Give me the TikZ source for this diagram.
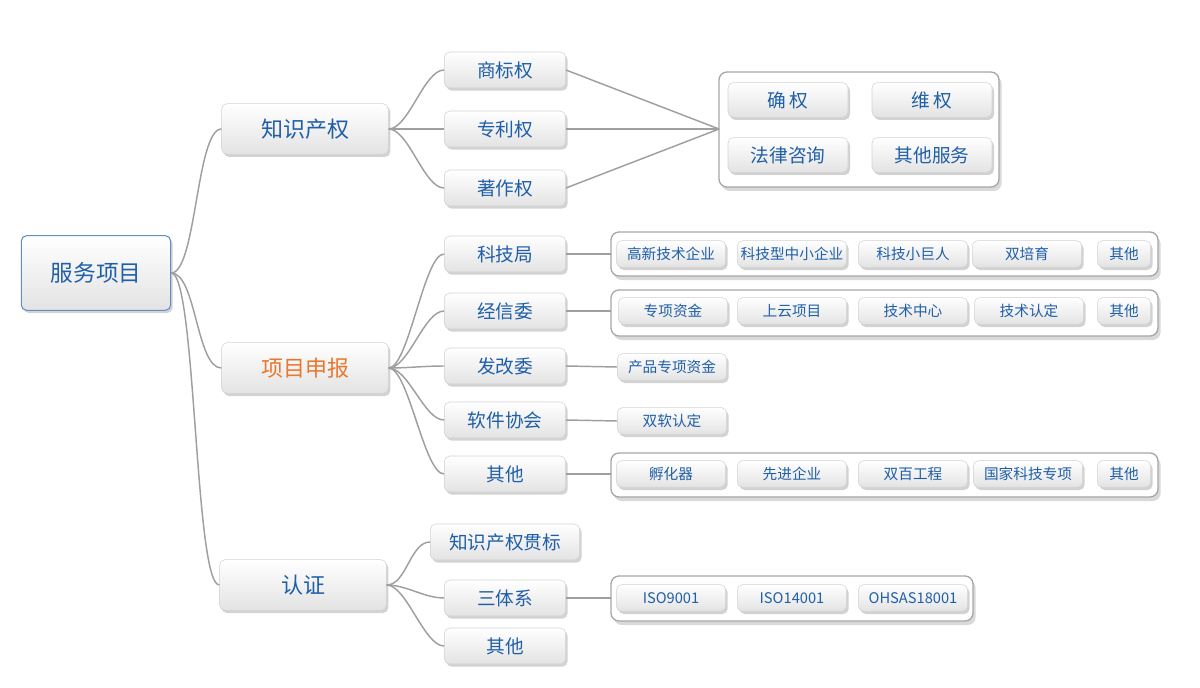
\documentclass[tikz,border=0pt]{standalone}
\usepackage{fontspec}
\newfontfamily\cjk{Noto Sans CJK SC}
\usetikzlibrary{shadows}
\definecolor{tblue}{HTML}{1F5FA8}
\definecolor{torange}{HTML}{E8782E}
\tikzset{
 x=0.75pt,y=-0.75pt,
 base/.style={rounded corners=4pt,draw=gray!35,top color=white,bottom color=gray!22,
   drop shadow={shadow xshift=1.5pt,shadow yshift=-2pt,opacity=0.35},
   text=tblue,font=\cjk,inner sep=0pt,align=center},
 lone/.style={base,minimum width=167\pgflinewidth*0+125pt,minimum height=38pt,font=\cjk\fontsize{16.5}{18}\selectfont},
 ltwo/.style={base,minimum width=91pt,minimum height=27pt,font=\cjk\fontsize{14}{16}\selectfont},
 lbig/.style={base,minimum width=90pt,minimum height=26pt,font=\cjk\fontsize{14}{16}\selectfont},
 item/.style={base,minimum width=82pt,minimum height=20pt,font=\cjk\fontsize{11}{13}\selectfont},
 frame/.style={rounded corners=6pt,draw=gray!70,line width=1pt,fill=white,
   drop shadow={shadow xshift=2pt,shadow yshift=-3pt,opacity=0.3}},
 con/.style={draw=gray!75,line width=1.1pt},
}
\begin{document}
\begin{tikzpicture}
\useasboundingbox (0,0) rectangle (1200,688);
% frames
\draw[frame] (719,72) rectangle (999,187);
\draw[frame] (611,232) rectangle (1158,276);
\draw[frame] (611,290) rectangle (1158,336);
\draw[frame] (611,453) rectangle (1158,497);
\draw[frame] (611,576) rectangle (973,621);
\coordinate (f1) at (719,129);
\coordinate (f2) at (611,254);
\coordinate (f3) at (611,311);
\coordinate (f4) at (611,474);
\coordinate (f5) at (611,598);
% root
\node[base,draw=tblue!70,line width=0.8pt,minimum width=112pt,minimum height=56pt,font=\cjk\fontsize{17}{20}\selectfont] (root) at (96,273) {服务项目};
\node[lone] (ip) at (305,129) {知识产权};
\node[lone,text=torange] (pj) at (305,368) {项目申报};
\node[lone] (rz) at (303,585) {认证};
\node[ltwo] (a1) at (505,70) {商标权};
\node[ltwo] (a2) at (505,129) {专利权};
\node[ltwo] (a3) at (505,188) {著作权};
\node[ltwo] (b1) at (505,254) {科技局};
\node[ltwo] (b2) at (505,311) {经信委};
\node[ltwo] (b3) at (505,366) {发改委};
\node[ltwo] (b4) at (505,420) {软件协会};
\node[ltwo] (b5) at (505,474) {其他};
\node[ltwo,minimum width=112pt] (c1) at (505,542) {知识产权贯标};
\node[ltwo] (c2) at (505,598) {三体系};
\node[ltwo] (c3) at (505,646) {其他};
% big box
\node[lbig] at (788,100) {确\,权};
\node[lbig] at (932,100) {维\,权};
\node[lbig] at (788,155) {法律咨询};
\node[lbig] at (932,155) {其他服务};
% rows
\foreach \t/\x in {高新技术企业/671,科技型中小企业/792,科技小巨人/913,双培育/1027}
  \node[item] at (\x,254) {\t};
\node[item,minimum width=40pt] at (1124,254) {其他};
\foreach \t/\x in {专项资金/673,上云项目/792,技术中心/913,技术认定/1029}
  \node[item] at (\x,311) {\t};
\node[item,minimum width=40pt] at (1124,311) {其他};
\node[item] (d1) at (672,367) {产品专项资金};
\node[item] (d2) at (672,421) {双软认定};
\foreach \t/\x in {孵化器/671,先进企业/792,双百工程/913,国家科技专项/1028}
  \node[item] at (\x,474) {\t};
\node[item,minimum width=40pt] at (1124,474) {其他};
\foreach \t/\x in {ISO9001/671,ISO14001/792,OHSAS18001/913}
  \node[item] at (\x,598) {\t};
% connectors
\begin{scope}[on background layer/.style={}]
\foreach \n in {ip,pj,rz}
  \draw[con] (root.east) .. controls +(25,0) and +(-25,0) .. (\n.west);
\foreach \n in {a1,a2,a3}
  \draw[con] (ip.east) .. controls +(20,0) and +(-20,0) .. (\n.west);
\foreach \n in {b1,b2,b3,b4,b5}
  \draw[con] (pj.east) .. controls +(20,0) and +(-20,0) .. (\n.west);
\foreach \n in {c1,c2,c3}
  \draw[con] (rz.east) .. controls +(20,0) and +(-20,0) .. (\n.west);
\foreach \n in {a1,a2,a3} \draw[con] (\n.east) -- (f1);
\draw[con] (b1.east) -- (f2);
\draw[con] (b2.east) -- (f3);
\draw[con] (b3.east) -- (d1.west);
\draw[con] (b4.east) -- (d2.west);
\draw[con] (b5.east) -- (f4);
\draw[con] (c2.east) -- (f5);
\end{scope}
\end{tikzpicture}
\end{document}
